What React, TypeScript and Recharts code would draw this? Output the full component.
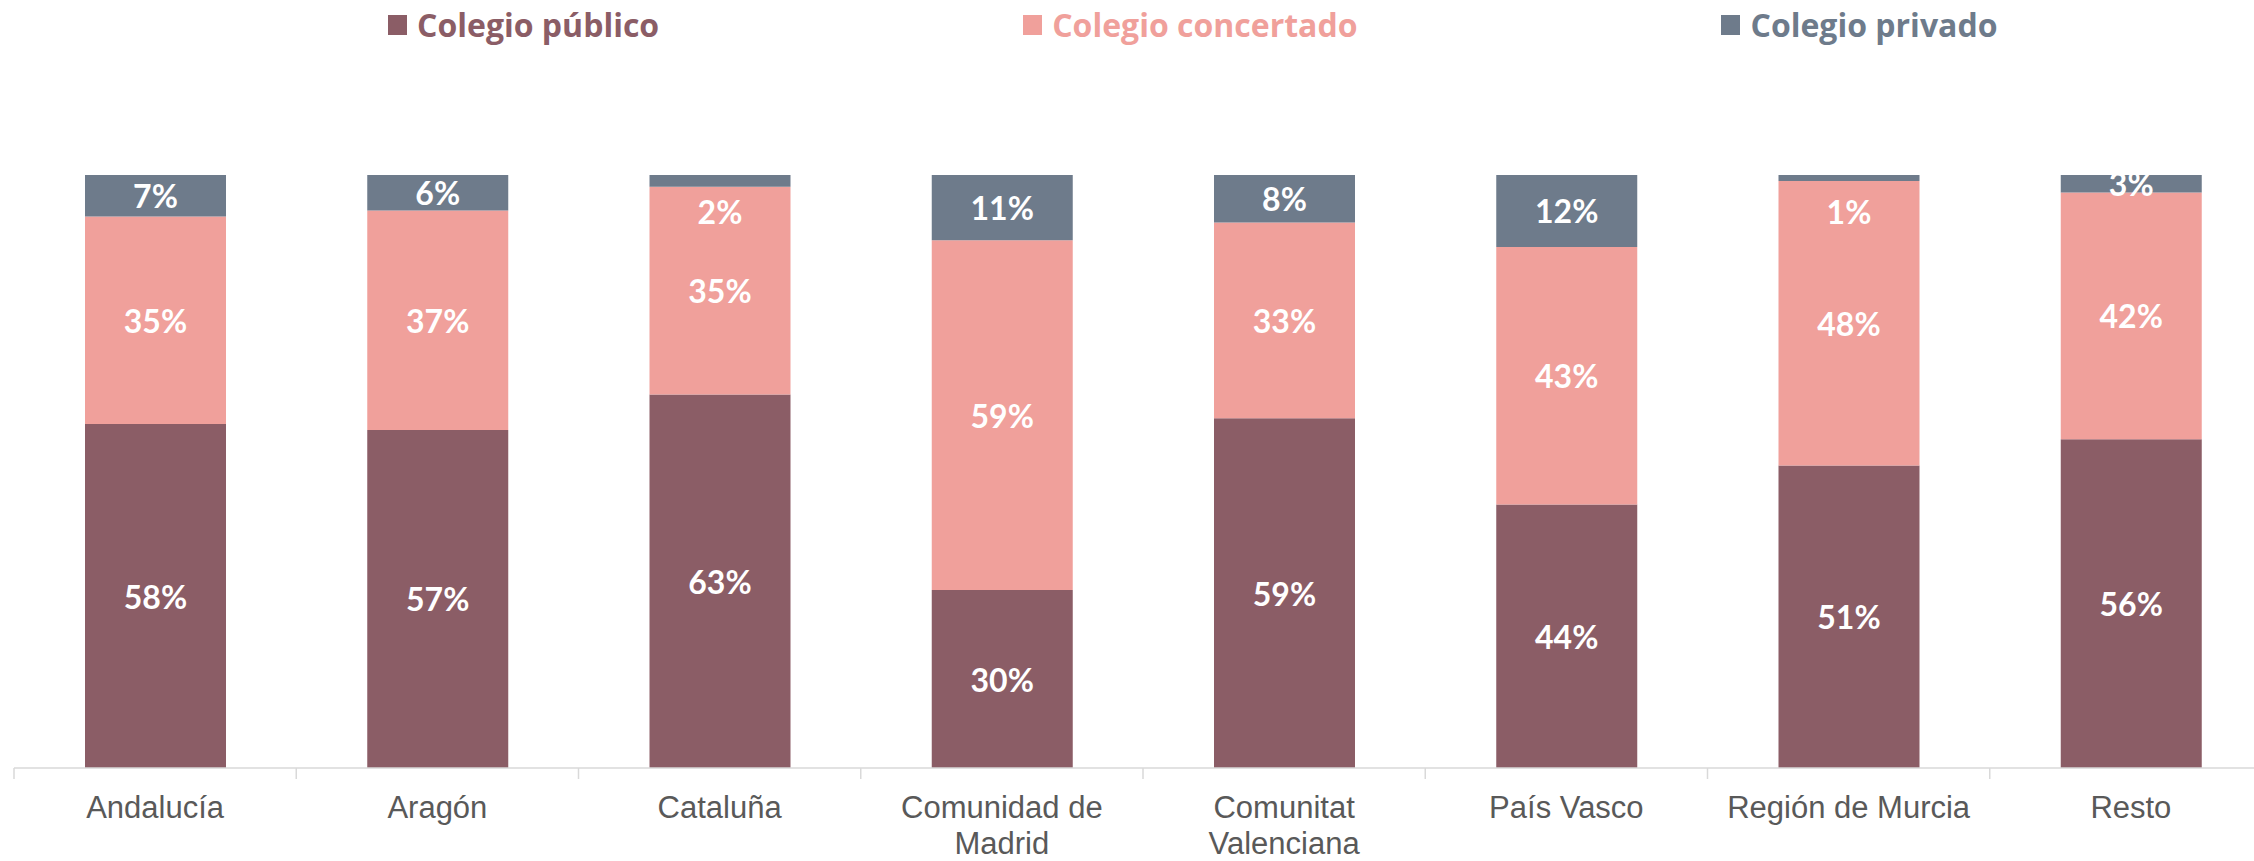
import React from 'react'
import { BarChart, Bar, XAxis, YAxis, Legend, LabelList } from 'recharts'

// Excel-like palette
const COLOR_PUBLICO = '#8B5D66'
const COLOR_CONCERTADO = '#F0A09B'
const COLOR_PRIVADO = '#6E7B8B'

const categories = [
  'Andalucía',
  'Aragón',
  'Cataluña',
  'Comunidad de Madrid',
  'Comunitat Valenciana',
  'País Vasco',
  'Región de Murcia',
  'Resto',
]

// how each category label breaks on the axis
const tickLines = [
  ['Andalucía'],
  ['Aragón'],
  ['Cataluña'],
  ['Comunidad de', 'Madrid'],
  ['Comunitat', 'Valenciana'],
  ['País Vasco'],
  ['Región de Murcia'],
  ['Resto'],
]

const publico = [58, 57, 63, 30, 59, 44, 51, 56]
const concertado = [35, 37, 35, 59, 33, 43, 48, 42]
const privado = [7, 6, 2, 11, 8, 12, 1, 3]

const series = [
  { key: 'publico', name: 'Colegio público', color: COLOR_PUBLICO },
  { key: 'concertado', name: 'Colegio concertado', color: COLOR_CONCERTADO },
  { key: 'privado', name: 'Colegio privado', color: COLOR_PRIVADO },
]

const data = categories.map((name, i) => ({
  name,
  publico: publico[i],
  concertado: concertado[i],
  privado: privado[i],
}))

const PLOT_LEFT = 14
const PLOT_WIDTH = 2258
const CHART_WIDTH = 2282
const CAT_WIDTH = PLOT_WIDTH / categories.length

const CategoryTick = ({ x, y, index }: any) => {
  const lines = tickLines[index] || []
  const left = x - CAT_WIDTH / 2
  return (
    <g>
      <line x1={left} y1={y} x2={left} y2={y + 11} stroke="#d9d9d9" strokeWidth={1.5} />
      {index === categories.length - 1 && (
        <line x1={x + CAT_WIDTH / 2} y1={y} x2={x + CAT_WIDTH / 2} y2={y + 11} stroke="#d9d9d9" strokeWidth={1.5} />
      )}
      {lines.map((line, i) => (
        <text
          key={i}
          x={x}
          y={y + 39 + i * 36}
          textAnchor="middle"
          dominantBaseline="central"
          fontFamily="'Liberation Sans', Arial, sans-serif"
          fontSize={31}
          fill="#595959"
        >
          {line}
        </text>
      ))}
    </g>
  )
}

const renderPctLabel = (props: any) => {
  const vb = props.viewBox || {}
  const x = props.x ?? vb.x
  const y = props.y ?? vb.y
  const width = props.width ?? vb.width
  const height = props.height ?? vb.height
  const { value } = props
  if (value == null) return null
  // tiny segments: Excel pushes the label down into the next segment
  const cy = height < 15 ? y + 36 : y + height / 2
  return (
    <text
      x={x + width / 2}
      y={cy}
      textAnchor="middle"
      dominantBaseline="central"
      fontFamily="Lato, 'Noto Sans', sans-serif"
      fontWeight={700}
      fontSize={32}
      fill="#ffffff"
    >
      {`${value}%`}
    </text>
  )
}

const TopLegend = () => (
  <div style={{ display: 'flex', alignItems: 'center', gap: 364, whiteSpace: 'nowrap' }}>
    {series.map(s => (
      <div key={s.key} style={{ display: 'flex', alignItems: 'center' }}>
        <span style={{ display: 'inline-block', width: 19, height: 20, background: s.color, marginRight: 10 }} />
        <span
          style={{
            fontFamily: '"Open Sans", Lato, sans-serif',
            fontWeight: 700,
            fontSize: 32,
            color: s.color,
            lineHeight: '40px',
          }}
        >
          {s.name}
        </span>
      </div>
    ))}
  </div>
)

export default function App() {
  return (
    <div style={{ position: 'fixed', top: 0, left: 0, width: 2254, height: 861, overflow: 'hidden', background: '#fff' }}>
      <BarChart
        width={CHART_WIDTH}
        height={861}
        data={data}
        stackOffset="expand"
        margin={{ top: 175, right: CHART_WIDTH - PLOT_LEFT - PLOT_WIDTH, left: PLOT_LEFT, bottom: 13 }}
        style={{ overflow: 'visible' }}
      >
        <XAxis
          dataKey="name"
          interval={0}
          height={80}
          tickSize={0}
          tickMargin={0}
          tickLine={false}
          axisLine={{ stroke: '#d9d9d9', strokeWidth: 1.5 }}
          tick={<CategoryTick />}
        />
        <YAxis hide domain={[0, 1]} />
        <Legend
          layout="horizontal"
          verticalAlign="middle"
          content={<TopLegend />}
          wrapperStyle={{ top: 5, left: 388, width: 1860, height: 40 }}
        />
        {series.map(s => (
          <Bar
            key={s.key}
            dataKey={s.key}
            name={s.name}
            stackId="a"
            fill={s.color}
            barSize={141}
            isAnimationActive={false}
          >
            <LabelList dataKey={s.key} content={renderPctLabel} />
          </Bar>
        ))}
      </BarChart>
    </div>
  )
}
